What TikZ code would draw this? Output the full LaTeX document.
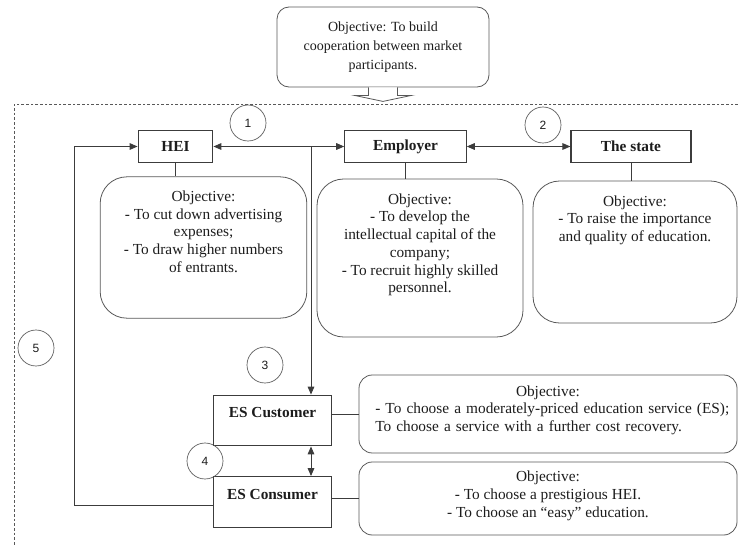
\documentclass[tikz,border=0pt]{standalone}
\usepackage{fontspec}
\setmainfont{Liberation Serif}
\newfontfamily\numfont{Liberation Sans}
\usetikzlibrary{arrows.meta}
\usetikzlibrary{positioning}
\definecolor{linegray}{HTML}{3C3C3C}
\definecolor{boxgray}{HTML}{585858}
\definecolor{textgray}{HTML}{1C1C1C}

\begin{document}
\begin{tikzpicture}[x=0.75pt,y=-0.75pt,
		every node/.style={text=textgray, font=\fontsize{11.5}{13.3}\selectfont},
		actor/.style={draw=linegray, line width=0.9pt, minimum width=#1, minimum height=24pt,
			inner sep=0pt, font=\fontsize{11.5}{13.3}\selectfont\bfseries},
		esbox/.style={draw=linegray, line width=0.9pt, minimum width=89pt, inner xsep=0pt,
			inner ysep=3pt, text height=13.75pt, text depth=18.25pt,
			font=\fontsize{11.5}{13.3}\selectfont\bfseries},
		goalbox/.style 2 args={draw=boxgray, line width=0.6pt, rounded corners=20pt,
			minimum width=#1, minimum height=#2, inner sep=0pt},
		goaltext/.style={inner sep=0pt, align=center},
		num/.style={circle, draw=boxgray, line width=0.5pt, minimum size=27pt, inner sep=0pt,
			font=\numfont\fontsize{9}{10}\selectfont},
		link/.style={draw=linegray, line width=0.7pt},
		arr/.style={-{Triangle[length=6pt,width=5pt]}},
		darr/.style={{Triangle[length=6pt,width=5pt]}-{Triangle[length=6pt,width=5pt]}},
		]
		\useasboundingbox (0,0) rectangle (738,546);

		% Common objective
		\node[goalbox={159pt}{60pt}, rounded corners=9pt, align=center,
			font=\fontsize{10.5}{14}\selectfont] (aim) at (383,47)
			{Objective: To build\\cooperation between market\\participants.};
		\draw[boxgray, line width=0.6pt, fill=white] ([xshift=-10.9pt]aim.south) -- ++(0,8)
			-- ++(-14,0) -- ++(28.5,6) -- ++(28.5,-6) -- ++(-14,0) -- ++(0,-8);

		% Frame
		\draw[boxgray, line width=0.6pt, dash pattern=on 2pt off 1.5pt]
			(738,104) -- (14,104) -- (14,546);

		% Participants
		\node[actor=56pt] (hei) at (175.5,146.5) {HEI};
		\node[actor=91pt] (employer) at (405.5,146.5) {Employer};
		\node[actor=90pt] (state) at (631,146.5) {The state};
		\node[esbox] (escustomer) at (272.5,420.5) {ES Customer};
		\node[esbox] (esconsumer) at (272.5,502) {ES Consumer};

		% Objectives
		\node[goalbox={155pt}{106pt}] (heigoal) at (203.5,247.5) {};
		\node[goalbox={154.5pt}{118.5pt}] (empgoal) at (420,258) {};
		\node[goalbox={153pt}{106.5pt}] (stategoal) at (635,252) {};
		\node[goalbox={283.5pt}{58.5pt}, rounded corners=10pt] (custgoal) at (548,414) {};
		\node[goalbox={283.5pt}{54.75pt}, rounded corners=10pt] (consgoal) at (548,498.5) {};

		\node[goaltext, below=10.5pt of heigoal.north] (heitext)
			{Objective:\\- To cut down advertising\\expenses;\\- To draw higher numbers\\of entrants.};
		\node[goaltext, below=11pt of empgoal.north] (emptext)
			{Objective:\\- To develop the\\intellectual capital of the\\company;\\- To recruit highly skilled\\personnel.};
		\node[goaltext, below=11pt of stategoal.north] (statetext)
			{Objective:\\- To raise the importance\\and quality of education.};
		\node[inner sep=0pt, text width=280pt, align=left, anchor=north west] (custtext)
			at ([xshift=-129.75pt,yshift=-8pt]custgoal.north)
			{\makebox[259pt]{Objective:}\\- To choose a moderately-priced education service (ES);\\To choose a service with a further cost recovery.};
		\node[goaltext, below=7pt of consgoal.north] (constext)
			{Objective:\\- To choose a prestigious HEI.\\- To choose an ``easy'' education.};

		% Connectors
		\coordinate (split) at (311,146.5);
		\coordinate (loop) at (74,505);
		\draw[link, darr] (hei) -- (employer);
		\draw[link, darr] (employer) -- (state);
		\draw[link, arr] (split) -- (split |- escustomer.north);
		\draw[link, darr] (escustomer.south -| split) -- (esconsumer.north -| split);
		\draw[link, arr] (esconsumer.west |- loop) -- (loop) |- (hei.west);
		\draw[link] (hei.south) -- (hei.south |- heigoal.north);
		\draw[link] (employer.south) -- (employer.south |- empgoal.north);
		\draw[link] (state.south) -- (state.south |- stategoal.north);
		\draw[link] (escustomer.east |- custgoal.west) -- (custgoal.west);
		\draw[link] (esconsumer.east |- consgoal.west) -- (consgoal.west);

		% Step numbers
		\node[num] (n1) at (248,123) {1};
		\node[num] (n2) at (543,125) {2};
		\node[num] (n3) at (265,365) {3};
		\node[num] (n4) at (205,461) {4};
		\node[num] (n5) at (36,348) {5};
	\end{tikzpicture}
\end{document}
